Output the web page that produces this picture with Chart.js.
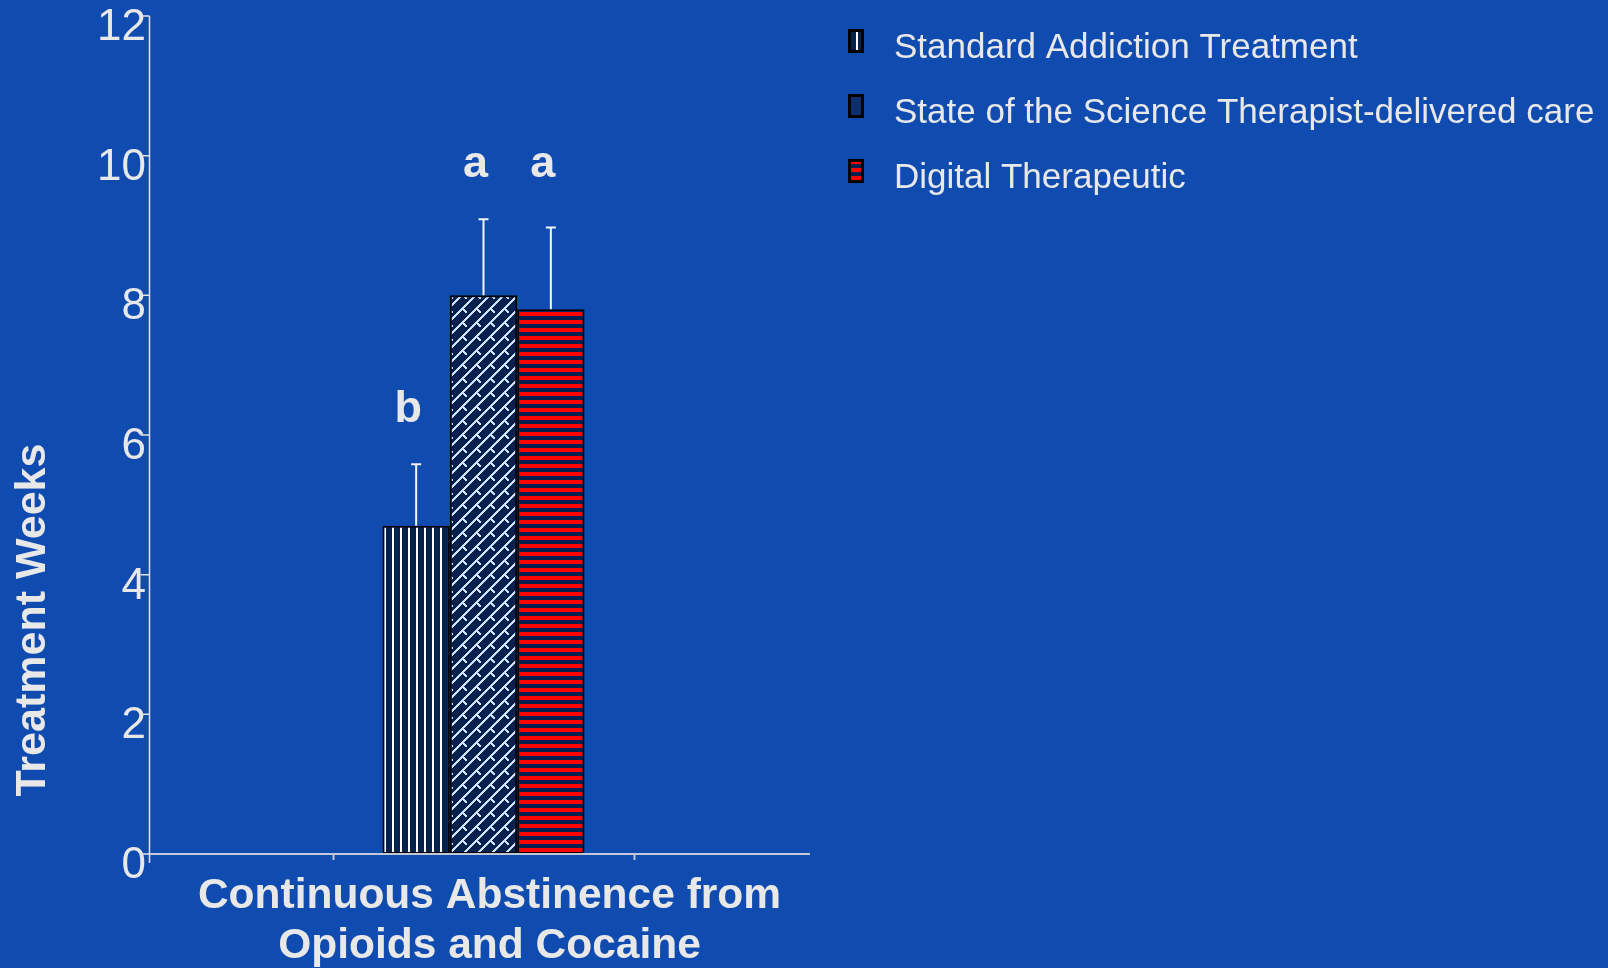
<!DOCTYPE html>
<html>
<head>
<meta charset="utf-8">
<script src="https://cdn.jsdelivr.net/npm/chart.js@4/dist/chart.umd.min.js"></script>
<style>
  html, body { margin: 0; padding: 0; background: #104bb0; overflow: hidden; }
  canvas { display: block; }
</style>
</head>
<body>
<canvas id="chart" width="1608" height="968"></canvas>
<script>
// ---- data ----
const categories = ['Continuous Abstinence from Opioids and Cocaine'];
const seriesLabels = [
  'Standard Addiction Treatment',
  'State of the Science Therapist-delivered care',
  'Digital Therapeutic'
];
const meanWeeks = [4.7, 8.0, 7.8];
const errorWeeks = [0.88, 1.09, 1.17];
const sigLetters = ['b', 'a', 'a'];
const yTickValues = [0, 2, 4, 6, 8, 10, 12];
const xTitleLines = ['Continuous Abstinence from', 'Opioids and Cocaine'];
const yTitleText = 'Treatment Weeks';

// ---- styling ----
const FONT = "'Liberation Sans', Arial, Helvetica, sans-serif";
const BG = '#104bb0';
const TEXT = '#e8e8e8';
const NAVY = '#07214f';

function makePattern(w, h, paint) {
  const c = document.createElement('canvas');
  c.width = w; c.height = h;
  const g = c.getContext('2d');
  paint(g, w, h);
  return g.createPattern(c, 'repeat');
}

// vertical white pinstripes
const vertPattern = makePattern(8, 8, (g, w, h) => {
  g.fillStyle = NAVY; g.fillRect(0, 0, w, h);
  g.fillStyle = '#ffffff'; g.fillRect(0, 0, 2, h);
});
// light-blue diagonal lattice
const latticePattern = makePattern(14, 14, (g, w, h) => {
  g.fillStyle = NAVY; g.fillRect(0, 0, w, h);
  g.fillStyle = '#cfe3ff';
  for (let k = 0; k < 14; k++) g.fillRect(k, 13 - k, 2, 2);
  for (let k = 0; k < 4; k++) g.fillRect(k, k, 2, 2);
});
// horizontal red bands
const bandPattern = makePattern(8, 8, (g, w, h) => {
  g.fillStyle = NAVY; g.fillRect(0, 0, w, h);
  g.fillStyle = '#ff0000'; g.fillRect(0, 0, w, 4);
});

const fills = [vertPattern, latticePattern, bandPattern];
const swatchFills = [vertPattern, '#0d2f6d', bandPattern];

const datasets = seriesLabels.map((label, i) => ({
  label,
  data: [meanWeeks[i]],
  backgroundColor: fills[i],
  borderColor: '#000000',
  borderWidth: 2,
  borderSkipped: false,
  barPercentage: 1.0,
  categoryPercentage: 0.302
}));

const decor = {
  id: 'decor',
  beforeDraw(chart) {
    const ctx = chart.ctx;
    ctx.save();
    ctx.fillStyle = BG;
    ctx.fillRect(0, 0, chart.width, chart.height);
    ctx.restore();
  },
  afterDatasetsDraw(chart) {
    const ctx = chart.ctx;
    const y = chart.scales.y;
    ctx.save();
    // upper error bars
    const tops = [];
    chart.data.datasets.forEach((ds, i) => {
      const bar = chart.getDatasetMeta(i).data[0];
      const yTop = y.getPixelForValue(meanWeeks[i] + errorWeeks[i]);
      tops.push(yTop);
      ctx.strokeStyle = '#f4f4f4';
      ctx.lineWidth = 2;
      ctx.beginPath();
      ctx.moveTo(bar.x, bar.y);
      ctx.lineTo(bar.x, yTop);
      ctx.moveTo(bar.x - 5, yTop);
      ctx.lineTo(bar.x + 5, yTop);
      ctx.stroke();
    });
    // significance letters, aligned within each letter group
    ctx.fillStyle = TEXT;
    ctx.font = 'bold 45px ' + FONT;
    ctx.textAlign = 'center';
    ctx.textBaseline = 'alphabetic';
    chart.data.datasets.forEach((ds, i) => {
      const bar = chart.getDatasetMeta(i).data[0];
      let groupTop = Infinity;
      sigLetters.forEach((l, j) => { if (l === sigLetters[i]) groupTop = Math.min(groupTop, tops[j]); });
      ctx.fillText(sigLetters[i], bar.x - 8, groupTop - 42);
    });
    ctx.restore();
  },
  afterDraw(chart) {
    const ctx = chart.ctx;
    const area = chart.chartArea;
    const x = chart.scales.x;
    const y = chart.scales.y;
    const y0 = y.getPixelForValue(0);
    ctx.save();

    // x axis line and its two small ticks
    ctx.strokeStyle = '#c4c8d6';
    ctx.lineWidth = 2;
    ctx.beginPath();
    ctx.moveTo(area.left, y0);
    ctx.lineTo(area.right - 8, y0);
    [-0.225, 0.225].forEach(v => {
      const px = Math.round(x.getPixelForValue(v)) + 0.5;
      ctx.moveTo(px, y0);
      ctx.lineTo(px, y0 + 6);
    });
    ctx.stroke();

    // y axis line with outward ticks
    const ax = area.left + 0.5;
    ctx.strokeStyle = '#e2e4ec';
    ctx.lineWidth = 1.5;
    ctx.beginPath();
    ctx.moveTo(ax, y.getPixelForValue(12));
    ctx.lineTo(ax, y0 + 9);
    yTickValues.forEach(v => {
      const py = y.getPixelForValue(v);
      ctx.moveTo(ax - 9, py);
      ctx.lineTo(ax, py);
    });
    ctx.stroke();

    // axis titles
    ctx.fillStyle = TEXT;
    ctx.font = 'bold 42.5px ' + FONT;
    ctx.textAlign = 'center';
    ctx.textBaseline = 'middle';
    const cx = (area.left + area.right) / 2 + 6;
    xTitleLines.forEach((line, i) => ctx.fillText(line, cx, y0 + 42 + i * 50));

    ctx.font = 'bold 43px ' + FONT;
    ctx.save();
    ctx.translate(33, y.getPixelForValue(3.35));
    ctx.rotate(-Math.PI / 2);
    ctx.fillText(yTitleText, 0, 0);
    ctx.restore();

    // legend
    ctx.font = '35px ' + FONT;
    ctx.textAlign = 'left';
    chart.data.datasets.forEach((ds, i) => {
      const cy = 41 + i * 65;
      const bx = 848, bw = 16, bh = 24, by = cy - bh / 2;
      ctx.fillStyle = swatchFills[i];
      ctx.fillRect(bx, by, bw, bh);
      ctx.strokeStyle = '#000000';
      ctx.lineWidth = 3;
      ctx.strokeRect(bx + 1.5, by + 1.5, bw - 3, bh - 3);
      ctx.fillStyle = TEXT;
      ctx.fillText(ds.label, 894, cy + 7);
    });
    ctx.restore();
  }
};

new Chart(document.getElementById('chart'), {
  type: 'bar',
  data: { labels: categories, datasets },
  plugins: [decor],
  options: {
    responsive: false,
    animation: false,
    devicePixelRatio: 1,
    layout: { padding: { left: 0, top: 16, right: 790, bottom: 0 } },
    plugins: { legend: { display: false }, tooltip: { enabled: false } },
    scales: {
      x: {
        offset: true,
        grid: { display: false, drawTicks: false },
        border: { display: false },
        ticks: { display: false },
        afterFit(scale) {
          scale.height = 114;
          scale.paddingLeft = 0;
          scale.paddingRight = 0;
        }
      },
      y: {
        min: 0,
        max: 12,
        grid: { display: false, drawTicks: false },
        border: { display: false },
        ticks: {
          stepSize: 2,
          padding: 3,
          labelOffset: 12,
          color: TEXT,
          font: { family: FONT, size: 44 }
        },
        afterFit(scale) {
          scale.width = 149;
          scale.paddingTop = 0;
          scale.paddingBottom = 0;
        }
      }
    }
  }
});
</script>
</body>
</html>
